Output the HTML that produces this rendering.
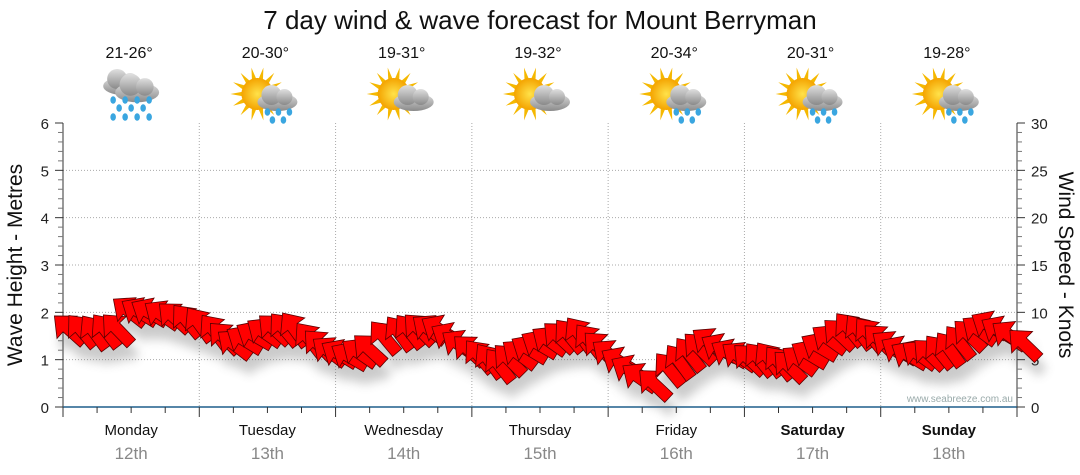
<!DOCTYPE html>
<html><head><meta charset="utf-8"><style>
body{margin:0;background:#fff;width:1080px;height:475px;overflow:hidden;font-family:"Liberation Sans",sans-serif}
svg{display:block}
</style></head><body>
<svg id="s" width="1080" height="475" xmlns="http://www.w3.org/2000/svg" font-family="Liberation Sans, sans-serif">
<defs>
<filter id="sh" x="-20%" y="-20%" width="140%" height="160%"><feGaussianBlur stdDeviation="5"/></filter>
<radialGradient id="sun" cx="50%" cy="50%" r="50%"><stop offset="0" stop-color="#ffe24a"/><stop offset="1" stop-color="#f4a300"/></radialGradient>
<linearGradient id="cl" x1="0" y1="0" x2="0" y2="1"><stop offset="0" stop-color="#e0e0e0"/><stop offset="1" stop-color="#8a8a8a"/></linearGradient>
</defs>
<text x="540" y="29" font-size="26" text-anchor="middle" fill="#111">7 day wind &amp; wave forecast for Mount Berryman</text>
<g id="grid"></g>
<g id="icons"></g>
<g id="arrows"></g>
<text x="1013" y="402" font-size="10" text-anchor="end" fill="#9aa">www.seabreeze.com.au</text>
<text transform="translate(22,265) rotate(-90)" font-size="21" text-anchor="middle" fill="#111">Wave Height - Metres</text>
<text transform="translate(1059,265) rotate(90)" font-size="21" text-anchor="middle" fill="#111">Wind Speed - Knots</text>
</svg>
<script>
const NS="http://www.w3.org/2000/svg";
function el(p,t,a,txt){const e=document.createElementNS(NS,t);for(const k in a)e.setAttribute(k,a[k]);if(txt!==undefined)e.textContent=txt;p.appendChild(e);return e;}
const g=document.getElementById('grid');
const X0=63,X1=1017,Y0=407,Y6=123,dy=(Y0-Y6)/6,dw=(X1-X0)/7;
for(let i=1;i<6;i++){const y=Y0-i*dy;el(g,'line',{x1:X0,x2:X1,y1:y,y2:y,stroke:'#aaa','stroke-dasharray':'1,2'});}
for(let i=1;i<7;i++){const x=X0+i*dw;el(g,'line',{x1:x,x2:x,y1:Y6,y2:Y0,stroke:'#aaa','stroke-dasharray':'1,2'});}
el(g,'line',{x1:X0,x2:X0,y1:Y6,y2:Y0,stroke:'#333'});
el(g,'line',{x1:X1,x2:X1,y1:Y6,y2:Y0,stroke:'#333'});
for(let i=0;i<=30;i++){const y=Y0-i*dy/5;const maj=i%5==0;
 el(g,'line',{x1:X0-(maj?8:5),x2:X0,y1:y,y2:y,stroke:maj?'#333':'#777'});
 el(g,'line',{x1:X1,x2:X1+(maj?8:5),y1:y,y2:y,stroke:maj?'#333':'#777'});
 if(maj){el(g,'text',{x:X0-14,y:y+6,'font-size':15,'text-anchor':'end',fill:'#222'},i/5);}
}
for(let i=0;i<=6;i++){const y=Y0-i*dy;el(g,'text',{x:X1+14,y:y+6,'font-size':15,fill:'#222'},i*5);}
el(g,'line',{x1:X0,x2:X1,y1:Y0,y2:Y0,stroke:'#1f5f8b','stroke-width':1.5});
for(let i=0;i<=28;i++){const x=X0+i*dw/4;el(g,'line',{x1:x,x2:x,y1:Y0,y2:Y0+(i%4==0?10:6),stroke:'#333'});}
const days=['Monday','Tuesday','Wednesday','Thursday','Friday','Saturday','Sunday'];
const temps=['21-26°','20-30°','19-31°','19-32°','20-34°','20-31°','19-28°'];
const ic=document.getElementById('icons');
function cloud(p,x,y,s){const gg=el(p,'g',{transform:`translate(${x},${y}) scale(${s})`});
 el(gg,'ellipse',{cx:0,cy:4,rx:20,ry:9,fill:'url(#cl)'});el(gg,'circle',{cx:-6,cy:-3,r:10,fill:'url(#cl)'});el(gg,'circle',{cx:7,cy:-1,r:8,fill:'url(#cl)'});}
function drops(p,pts){pts.forEach(q=>el(p,'ellipse',{cx:q[0],cy:q[1],rx:2.8,ry:3.8,fill:'#3aa6e0'}));}
for(let i=0;i<7;i++){const cx=X0+(i+0.5)*dw;
 el(g,'text',{x:cx,y:435,'font-size':15,'text-anchor':'middle',fill:'#111','font-weight':i>=5?'bold':'normal'},days[i]);
 el(g,'text',{x:cx,y:459,'font-size':17,'text-anchor':'middle',fill:'#888'},['12th','13th','14th','15th','16th','17th','18th'][i]);
 el(ic,'text',{x:cx-2,y:58,'font-size':16,'text-anchor':'middle',fill:'#111'},temps[i]);
 if(i==0){cloud(ic,cx-8,82,1.0);cloud(ic,cx+6,88,1.1);
  drops(ic,[[cx-18,100],[cx-6,100],[cx+6,100],[cx+18,100],[cx-12,108],[cx,108],[cx+12,108],[cx-18,117],[cx-6,117],[cx+6,117],[cx+18,117]]);}
 else{const sx=cx-10,sy=94;
  for(let k=0;k<14;k++){const a=k*Math.PI/7;el(ic,'polygon',{points:`${sx+Math.cos(a-0.15)*15},${sy+Math.sin(a-0.15)*15} ${sx+Math.cos(a)*27},${sy+Math.sin(a)*27} ${sx+Math.cos(a+0.15)*15},${sy+Math.sin(a+0.15)*15}`,fill:'#f5b800'});}
  el(ic,'circle',{cx:sx,cy:sy,r:16,fill:'url(#sun)'});
  cloud(ic,cx+10,98,1.0);
  if(i!=2&&i!=3)drops(ic,[[cx,112],[cx+11,112],[cx+22,112],[cx+5,120],[cx+16,120]]);}
}
// arrows
const kp=[[70,330],[95,333],[118,330],[130,312],[150,313],[175,318],[200,325],[215,332],[235,345],[255,336],[275,330],[295,330],[310,340],[330,352],[350,357],[370,350],[385,338],[400,334],[420,330],[440,330],[460,345],[480,357],[500,366],[520,355],[540,345],[560,338],[580,335],[600,348],[620,362],[640,378],[655,385],[670,370],[690,355],[710,343],[730,354],[750,360],[770,360],[790,367],[810,355],[830,340],[850,330],[870,335],[890,346],[910,356],[930,355],[950,350],[970,336],[990,326],[1010,336],[1025,345]];
const pts=[];
for(let i=0;i<kp.length-1;i++){const a=kp[i],b=kp[i+1];const n=Math.max(1,Math.round((b[0]-a[0])/12));for(let j=0;j<n;j++){const t=j/n;pts.push([a[0]+(b[0]-a[0])*t,a[1]+(b[1]-a[1])*t]);}}
pts.push(kp[kp.length-1]);
const ar=document.getElementById('arrows');
const sh=el(ar,'g',{filter:'url(#sh)',opacity:0.3});const fg=el(ar,'g',{});
const poly="-21,0 -4,-15 -4,-6 19,-6 19,6 -4,6 -4,15";
pts.forEach((p,i)=>{const ang=42+12*Math.sin(i*0.7);
 el(sh,'polygon',{points:poly,transform:`translate(${p[0]+4},${p[1]+14}) rotate(${ang})`,fill:'#555'});
 el(fg,'polygon',{points:poly,transform:`translate(${p[0]},${p[1]}) rotate(${ang})`,fill:'#f00',stroke:'#5a0000','stroke-width':0.8});
});
</script>
</body></html>
